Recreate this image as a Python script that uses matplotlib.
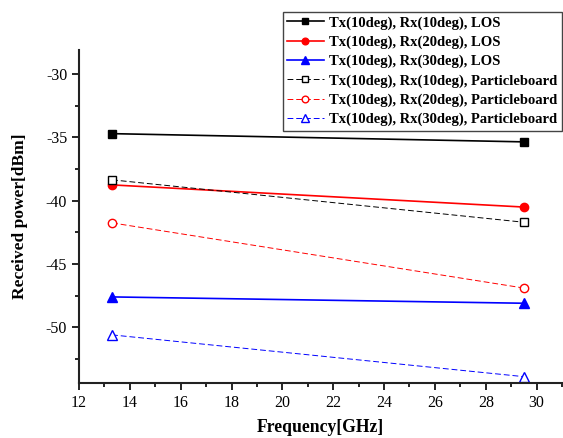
import numpy as np
import matplotlib
matplotlib.use('Agg')
import matplotlib.pyplot as plt
from matplotlib.ticker import MultipleLocator

plt.rcParams.update({
    'font.family': 'serif',
    'font.serif': ['Liberation Serif', 'DejaVu Serif'],
    'font.size': 11,
    'axes.unicode_minus': False,
})

# ===================== DATA =====================
freq = [13.3, 29.5]
los_10 = [-34.7, -35.35]
los_20 = [-38.75, -40.5]
los_30 = [-47.6, -48.1]
pb_10 = [-38.35, -41.7]
pb_20 = [-41.75, -46.9]
pb_30 = [-50.6, -53.9]

labels = [
    'Tx(10deg), Rx(10deg), LOS',
    'Tx(10deg), Rx(20deg), LOS',
    'Tx(10deg), Rx(30deg), LOS',
    'Tx(10deg), Rx(10deg), Particleboard',
    'Tx(10deg), Rx(20deg), Particleboard',
    'Tx(10deg), Rx(30deg), Particleboard',
]

# ===================== PLOT =====================
fig = plt.figure(figsize=(5.63, 4.38), dpi=100)
ax = fig.add_axes([0.1403, 0.1256, 0.858, 0.760])

ms = 6
mt = 7.5
ax.plot(freq, los_10, '-', color='black', lw=1.2, marker='s', ms=ms, label=labels[0])
ax.plot(freq, los_20, '-', color='red', lw=1.2, marker='o', ms=ms, label=labels[1])
ax.plot(freq, los_30, '-', color='blue', lw=1.2, marker='^', ms=mt, label=labels[2])
ax.plot(freq, pb_10, '--', color='black', lw=0.7, marker='s', ms=ms, mfc='white',
        mec='black', dashes=(6, 3), label=labels[3])
ax.plot(freq, pb_20, '--', color='red', lw=0.7, marker='o', ms=ms, mfc='white',
        mec='red', dashes=(6, 3), label=labels[4])
ax.plot(freq, pb_30, '--', color='blue', lw=0.7, marker='^', ms=mt, mfc='white',
        mec='blue', dashes=(6, 3), label=labels[5])

ax.set_xlim(12, 31)
ax.set_ylim(-54.4, -28.1)
ax.xaxis.set_major_locator(MultipleLocator(2))
ax.xaxis.set_minor_locator(MultipleLocator(1))
ax.yaxis.set_major_locator(MultipleLocator(5))
ax.yaxis.set_minor_locator(MultipleLocator(2.5))
ax.tick_params(which='both', direction='out', width=1.2, labelsize=11.5)
ax.tick_params(which='major', length=5)
ax.tick_params(which='minor', length=3)

for s in ['top', 'right']:
    ax.spines[s].set_visible(False)
for s in ['left', 'bottom']:
    ax.spines[s].set_linewidth(1.5)
    ax.spines[s].set_color('#222222')

ax.set_xlabel('Frequency[GHz]', fontsize=12.7, fontweight='bold', labelpad=6)
ax.set_ylabel('Received power[dBm]', fontsize=12.5, fontweight='bold', labelpad=13)

leg = ax.legend(loc='upper right', bbox_to_anchor=(1.0, 1.115), fancybox=False,
                edgecolor='#444444', framealpha=1, handlelength=2.5, markerscale=0.8,
                prop={'weight': 'bold', 'size': 10.5}, borderpad=0.3,
                labelspacing=0.4, handletextpad=0.4, borderaxespad=0)
leg.get_frame().set_linewidth(1.0)

fig.savefig('out.png', dpi=100)
